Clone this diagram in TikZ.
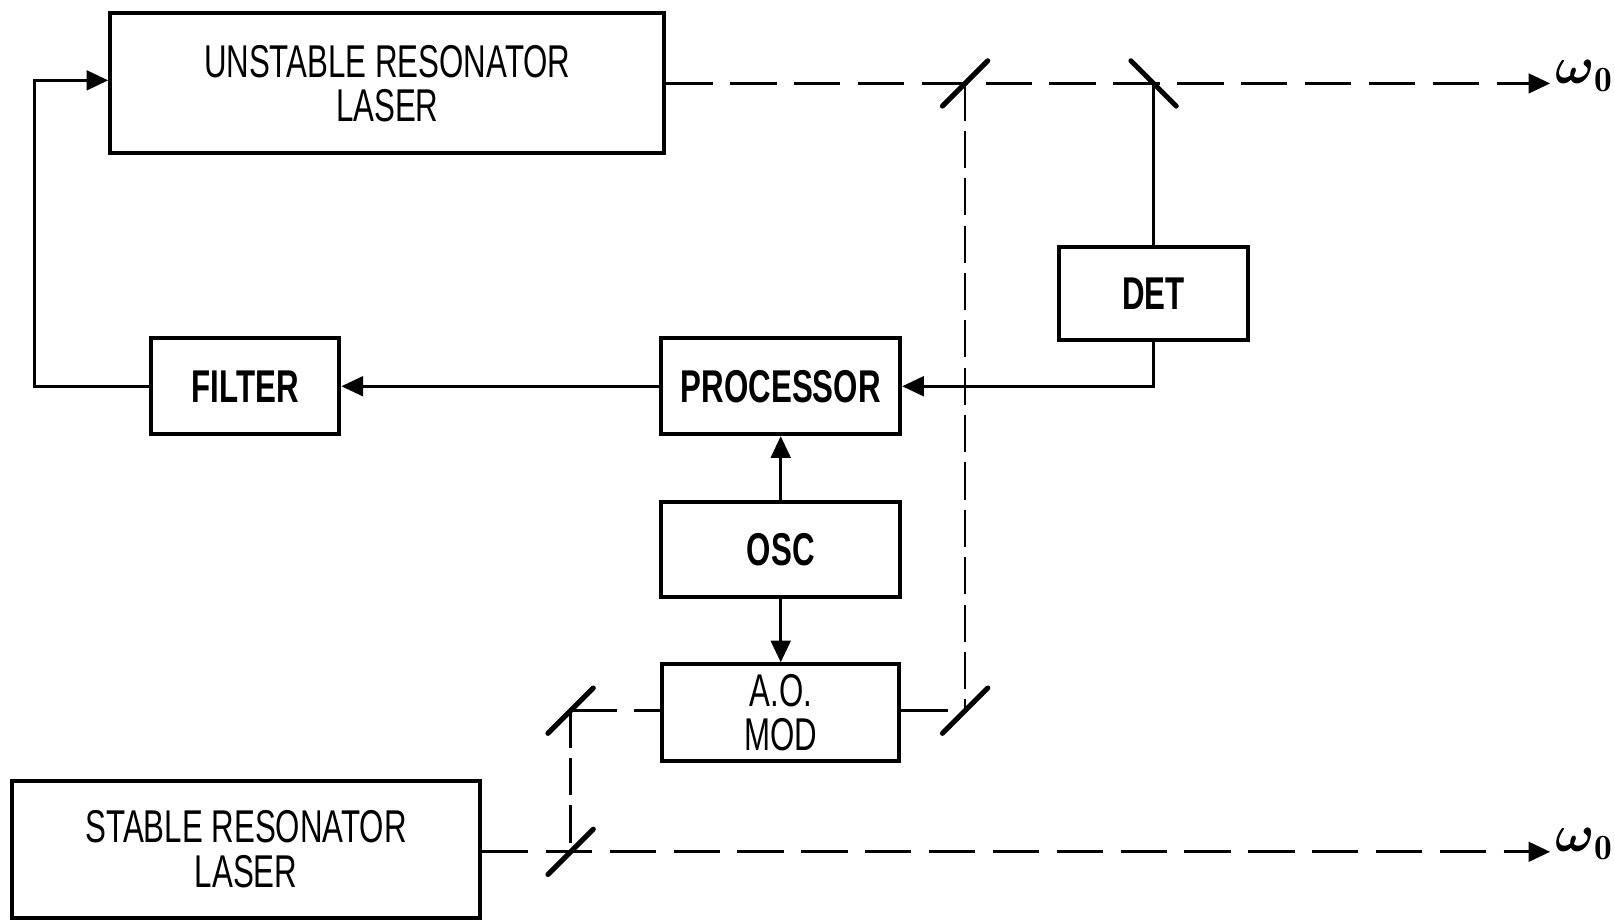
\documentclass[tikz,border=0pt]{standalone}
\usepackage{amsmath}
\usepackage{amssymb}
\usepackage{fontspec}
\usepackage{tikz}
\usetikzlibrary{arrows.meta, positioning}
\newfontfamily\lblfont[FakeStretch=0.68]{Liberation Sans}

\begin{document}
\begin{tikzpicture}[node distance = 1.585cm,
    >={Triangle[length=0.21cm, width=0.19cm]},
    blk/.style={rectangle, draw, line width=1.1pt, inner sep=0pt, align=center,
        font=\lblfont\fontsize{12.7}{12.2}\selectfont},
    bblk/.style={blk, font=\lblfont\bfseries\fontsize{12.7}{12.2}\selectfont},
    sig/.style={line width=0.85pt},
    beam/.style={line width=0.9pt, dash pattern=on 0.45cm off 0.17cm},
    vbeam/.style={line width=0.7pt, dash pattern=on 0.36cm off 0.1cm},
    mirr/.style={line width=1.4pt, line cap=round},
    outlbl/.style={anchor=base west, inner sep=1pt, font=\fontsize{14}{14}\selectfont}]
    \useasboundingbox (0,0) rectangle (15.68,-8.94);
    \node[blk, minimum width=5.38cm, minimum height=1.36cm] (unst) at (3.76,-0.81) {UNSTABLE RESONATOR\\LASER};
    \node[bblk, minimum width=1.83cm, minimum height=0.93cm] (filt) at (2.38,-3.75) {FILTER};
    \node[bblk, minimum width=2.32cm, minimum height=0.93cm] (proc) at (7.58,-3.75) {PROCESSOR};
    \node[bblk, minimum width=2.32cm, minimum height=0.92cm, below of=proc] (osc) {OSC};
    \node[blk, minimum width=2.30cm, minimum height=0.94cm, below of=osc] (aom) {A.O.\\MOD};
    \node[bblk, minimum width=1.83cm, minimum height=0.90cm] (det) at (11.20,-2.85) {DET};
    \node[blk, minimum width=4.54cm, minimum height=1.33cm] (stab) at (2.39,-8.245) {STABLE RESONATOR\\LASER};
    \coordinate (m1) at (9.37,-0.81);
    \coordinate (m2) at (11.20,-0.81);
    \coordinate (m3) at (9.37,-6.90);
    \coordinate (m4) at (5.54,-6.90);
    \coordinate (m5) at (5.54,-8.27);
    \coordinate (out1) at (15.05,-0.81);
    \coordinate (out2) at (15.05,-8.27);
    \draw[beam, ->] (unst.east) to (out1) node[outlbl] {$\boldsymbol{\omega}_{\mathbf{0}}$};
    \draw[beam, ->] (stab.east |- out2) to (out2) node[outlbl] {$\boldsymbol{\omega}_{\mathbf{0}}$};
    \draw[beam] (m4) to (aom.west |- m4);
    \draw[beam] (aom.east |- m3) to (m3);
    \draw[vbeam] (m1) to (m3);
    \draw[vbeam] (m4) to (m5);
    \draw[mirr] (m1) ++(-0.22,-0.22) -- ++(0.44,0.44);
    \draw[mirr] (m2) ++(-0.22,0.22) -- ++(0.44,-0.44);
    \draw[mirr] (m3) ++(-0.22,-0.22) -- ++(0.44,0.44);
    \draw[mirr] (m4) ++(-0.22,-0.22) -- ++(0.44,0.44);
    \draw[mirr] (m5) ++(-0.22,-0.22) -- ++(0.44,0.44);
    \draw[sig] (m2) to (det);
    \draw[sig, ->] (det.south) |- (proc.east);
    \draw[sig, ->] (proc) to (filt);
    \draw[sig, ->] (filt.west) -- ++(-1.11,0) |- ([yshift=0.03cm]unst.west);
    \draw[sig, ->] (osc) to (proc);
    \draw[sig, ->] (osc) to (aom);
\end{tikzpicture}
\end{document}
